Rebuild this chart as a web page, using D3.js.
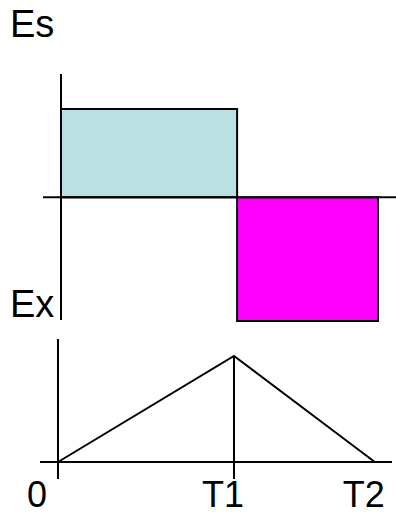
<!DOCTYPE html>
<html lang="en">
<head>
  <meta charset="UTF-8">
  <title>Es / Ex</title>
  <script src="https://d3js.org/d3.v7.min.js"></script>
  <style>
    body { margin: 0; background: #fff; }
    svg { display: block; }
    text { font-family: Arial, "Liberation Sans", sans-serif; font-size: 38px; fill: #000; }
    .time-label { font-size: 36px; }
    .axis-line { stroke: #000; stroke-width: 2; }
  </style>
</head>
<body>
  <svg id="chart" width="396" height="515"></svg>
  <script>
    // time points: 0, T1, T2
    const times = [0, 1, 1.8];
    const timeLabels = ["0", "T1", "T2"];
    // Es: constant level on each interval [0,T1], [T1,T2]
    const esValues = [1, -1.4];
    const esColors = ["#bbe0e3", "#ff00ff"];
    // Ex: value at each time point
    const exValues = [0, 1, 0];

    const svg = d3.select("#chart");

    // ============================
    // Top panel: Es
    // ============================
    const xTop = d3.scaleLinear().domain([0, 1.8]).range([61, 378]);
    const yTop = d3.scaleLinear().domain([-1.4, 1]).range([321, 109]);

    const segments = esValues.map((v, i) => ({ t0: times[i], t1: times[i + 1], v: v, color: esColors[i] }));

    svg.selectAll(".es-bar")
      .data(segments)
      .enter().append("rect")
      .attr("class", "es-bar")
      .attr("x", d => xTop(d.t0))
      .attr("y", d => yTop(Math.max(0, d.v)))
      .attr("width", d => xTop(d.t1) - xTop(d.t0))
      .attr("height", d => Math.abs(yTop(d.v) - yTop(0)))
      .attr("fill", d => d.color)
      .attr("stroke", "#000")
      .attr("stroke-width", 2);

    // axes of top panel
    svg.append("line").attr("class", "axis-line")
      .attr("x1", 43).attr("x2", 396)
      .attr("y1", yTop(0)).attr("y2", yTop(0));
    svg.append("line").attr("class", "axis-line")
      .attr("x1", xTop(0)).attr("x2", xTop(0))
      .attr("y1", 74).attr("y2", 320);

    svg.append("text").attr("x", 10).attr("y", 37).text("Es");

    // ============================
    // Bottom panel: Ex
    // ============================
    const xBot = d3.scaleLinear().domain([0, 1.8]).range([58, 374.8]);
    const yBot = d3.scaleLinear().domain([0, 1]).range([462, 356]);

    svg.append("path")
      .datum(times.map((t, i) => [t, exValues[i]]))
      .attr("fill", "none")
      .attr("stroke", "#000")
      .attr("stroke-width", 2)
      .attr("d", d3.line().x(d => xBot(d[0])).y(d => yBot(d[1])));

    // axes of bottom panel
    svg.append("line").attr("class", "axis-line")
      .attr("x1", 40).attr("x2", 392)
      .attr("y1", yBot(0)).attr("y2", yBot(0));
    svg.append("line").attr("class", "axis-line")
      .attr("x1", xBot(0)).attr("x2", xBot(0))
      .attr("y1", 339).attr("y2", 479);
    // vertical marker at T1
    svg.append("line").attr("class", "axis-line")
      .attr("x1", xBot(times[1])).attr("x2", xBot(times[1]))
      .attr("y1", yBot(exValues[1])).attr("y2", 479);

    svg.append("text").attr("x", 10).attr("y", 317).text("Ex");

    svg.selectAll(".time-label")
      .data(timeLabels)
      .enter().append("text")
      .attr("class", "time-label")
      .attr("x", (d, i) => xBot(times[i]) - 11)
      .attr("y", 507)
      .attr("text-anchor", (d, i) => i === 0 ? "end" : "middle")
      .text(d => d);
  </script>
</body>
</html>
